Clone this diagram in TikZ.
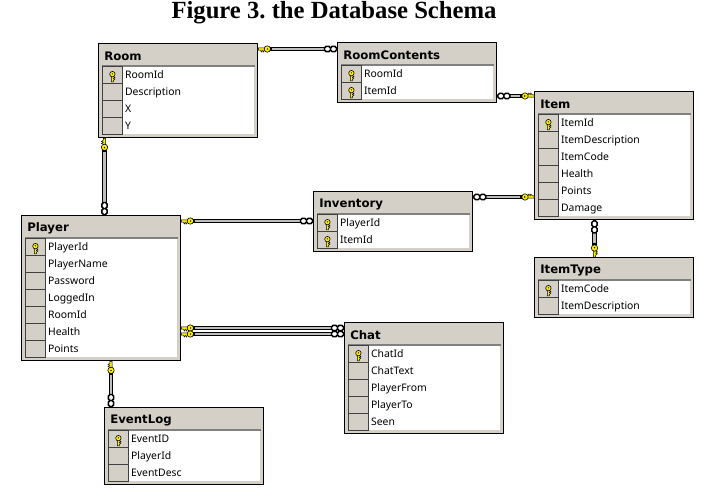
\documentclass[tikz,border=0pt]{standalone}
\usepackage{fontspec}
\setmainfont{Liberation Serif}
\newfontfamily\tablefont{Noto Sans}
\newfontfamily\headfont{DejaVu Sans}
\usetikzlibrary{positioning,calc}
\definecolor{panelgray}{RGB}{212,208,200}
\definecolor{keyyellow}{RGB}{255,240,0}
\definecolor{linkgray}{RGB}{190,190,190}

\tikzset{
  x=0.75pt,y=-0.75pt,
  tablebox/.style={rectangle,draw=black,line width=1pt,fill=panelgray,anchor=north west,
    minimum width=159*0.75pt,inner sep=0pt},
  tablehead/.style={anchor=west,font=\headfont\fontsize{8.8}{10}\selectfont\bfseries,inner sep=0pt},
  rowbody/.style={rectangle,fill=white,anchor=north west,minimum width=152*0.75pt,inner sep=0pt},
  keycell/.style={rectangle,draw=black!75,line width=0.6pt,fill=panelgray,anchor=north west,
    minimum width=20*0.75pt,minimum height=17*0.75pt,inner sep=0pt},
  rowtext/.style={anchor=west,font=\tablefont\fontsize{7.8}{9}\selectfont,inner sep=0pt,
    text height=6pt,text depth=1.5pt},
  relline/.style={draw=black,line width=0.8pt,double=linkgray,double distance=2.1pt,
    shorten <=9pt,shorten >=9pt},
  keymark/.pic={
    \fill[keyyellow,draw=black,line width=0.35pt] (0,-1.2) -- (7,-1.2) -- (7,1.2) -- (5.8,1.2) -- (5.2,3)
      -- (3.8,1.2) -- (3.2,3) -- (1.8,1.2) -- (0,1.2) -- cycle;
    \fill[keyyellow,draw=black,line width=0.45pt] (9,0) circle (3.2);
    \fill[black] (9.3,0) circle (0.8);
  },
  keyjoint/.pic={
    \fill[black] (12,-1.5) rectangle (14,1.5);
  },
  chainmark/.pic={
    \draw[black,line width=1.1pt,fill=white,rounded corners=1.2pt] (0.5,-2.6) rectangle (6.5,2.6);
    \draw[black,line width=1.1pt,fill=white,rounded corners=1.2pt] (6.5,-2.6) rectangle (12.5,2.6);
  }
}

% one table: id, title, corner, number of rows, rows
\newcommand{\dbtable}[5]{
  \node[tablebox,minimum height={(26+17*#4)*0.75pt}] (#1) at (#3) {};
  \node[tablehead] (#1-title) at ($(#1.north west)+(6,13)$) {#2};
  \node[rowbody,minimum height={17*#4*0.75pt}] (#1-body) at ($(#1.north west)+(4,23)$) {};
  \draw[gray,line width=0.8pt] (#1-body.north west) -- (#1-body.north east);
  \foreach \rowname/\iskey [count=\n] in {#5} {
    \node[keycell] (#1-k\n) at ($(#1-body.north west)+(0,{17*(\n-1)})$) {};
    \node[rowtext] (#1-r\n) at ($(#1-k\n.east)+(2,0.6)$) {\rowname};
    \ifnum\iskey=1
      \pic[rotate=90,scale=0.85] at ($(#1-k\n.south)+(0,-2)$) {keymark};
    \fi
  }
}

% one relationship: key end, chain end, direction at the key end
\newcommand{\dbrel}[3]{
  \draw[relline] (#1) -- (#2);
  \pic[rotate=#3] at (#1) {keymark};
  \pic[rotate=#3] at (#1) {keyjoint};
  \pic[rotate=#3+180] at (#2) {chainmark};
}

\begin{document}
\frenchspacing
\begin{tikzpicture}
\useasboundingbox (0,0) rectangle (712,498);
\fill[white] (0,0) rectangle (712,498);

% Title
\node[font=\fontsize{18.5}{20}\selectfont\bfseries,inner sep=0pt] (title) at (334,12.5) {Figure 3. the Database Schema};

% Top row
\dbtable{room}{Room}{98,43}{4}{RoomId/1,Description/0,X/0,Y/0}
\dbtable{contents}{RoomContents}{337,42}{2}{RoomId/1,ItemId/1}
\dbtable{item}{Item}{534,91}{6}{ItemId/1,ItemDescription/0,ItemCode/0,Health/0,Points/0,Damage/0}

% Middle
\dbtable{inventory}{Inventory}{313,191}{2}{PlayerId/1,ItemId/1}
\dbtable{itemtype}{ItemType}{534,257}{2}{ItemCode/1,ItemDescription/0}
\dbtable{player}{Player}{21,215}{7}{PlayerId/1,PlayerName/0,Password/0,LoggedIn/0,RoomId/0,Health/0,Points/0}

% Bottom
\dbtable{chat}{Chat}{344,322}{5}{ChatId/1,ChatText/0,PlayerFrom/0,PlayerTo/0,Seen/0}
\dbtable{eventlog}{EventLog}{104,407}{3}{EventID/1,PlayerId/0,EventDesc/0}

% Ends of the relationships
\coordinate (roomE) at ($(room.north east)+(0,6)$);
\coordinate (roomS) at ($(room.south west)+(6.5,0)$);
\coordinate (itemW) at ($(item.north west)+(0,5)$);
\coordinate (itemW2) at ($(item.north west)+(0,106)$);
\coordinate (itemS) at ($(item.south west)+(60.5,0)$);
\coordinate (playerE) at ($(player.north east)+(0,6)$);
\coordinate (playerE2) at ($(player.north east)+(0,113)$);
\coordinate (playerE3) at ($(player.north east)+(0,119)$);
\coordinate (playerS) at ($(player.south west)+(90,0)$);

% Relationships
\dbrel{roomE}{roomE -| contents.west}{0}
\dbrel{roomS}{roomS |- player.north}{-90}
\dbrel{itemW}{itemW -| contents.east}{180}
\dbrel{itemW2}{itemW2 -| inventory.east}{180}
\dbrel{itemS |- itemtype.north}{itemS}{90}
\dbrel{playerE}{playerE -| inventory.west}{0}
\dbrel{playerE2}{playerE2 -| chat.west}{0}
\dbrel{playerE3}{playerE3 -| chat.west}{0}
\dbrel{playerS}{playerS |- eventlog.north}{-90}

\end{tikzpicture}
\end{document}
